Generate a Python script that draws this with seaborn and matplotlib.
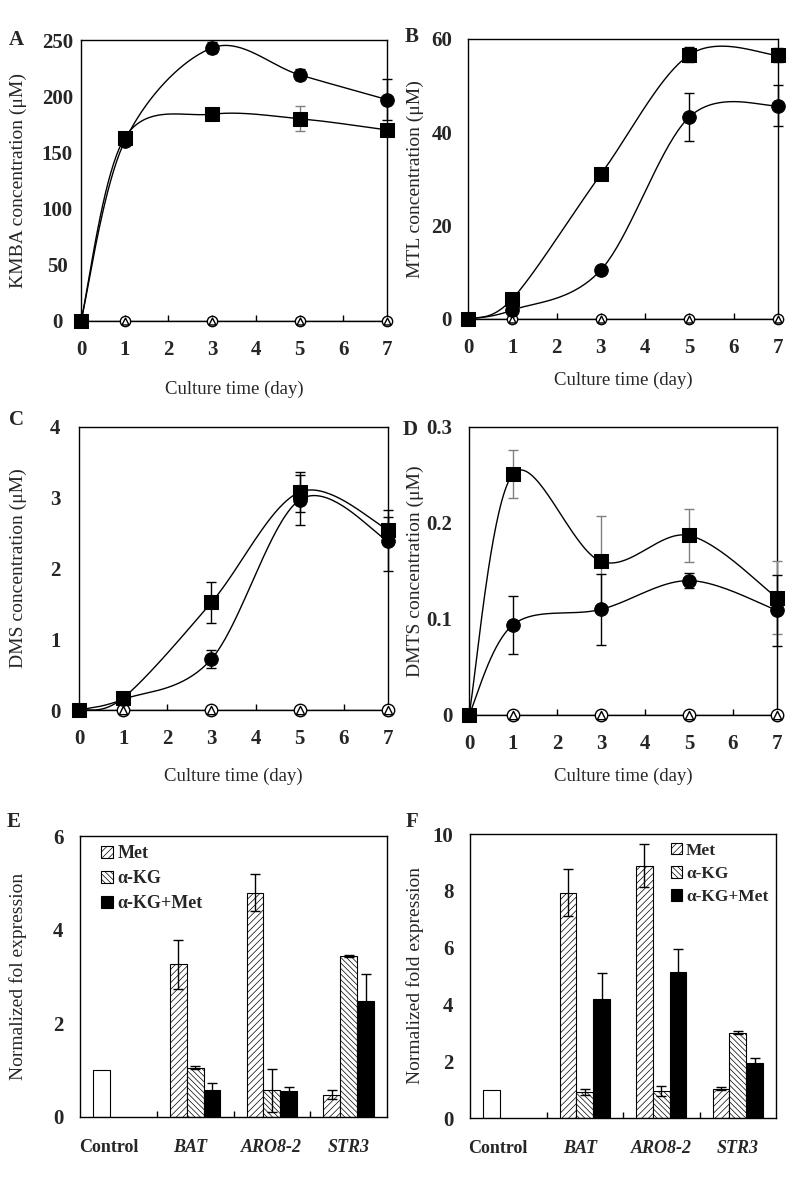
import numpy as np
import pandas as pd
import seaborn as sns
from matplotlib import pyplot as plt
from matplotlib.patches import Patch
from matplotlib.ticker import FuncFormatter
from matplotlib.transforms import ScaledTranslation

### Time course data (days of culture)
days = [0, 1, 3, 5, 7]
zero_days = [1, 3, 5, 7]
zero_vals = [0, 0, 0, 0]

# A: KMBA
kmba_sq = [0, 163, 184, 180, 170]
kmba_sq_err = [0, 3, 5, 11, 3]
kmba_ci = [0, 160, 243, 219, 197]
kmba_ci_err = [0, 3, 5, 5, 18]

# B: MTL
mtl_sq = [0, 4.3, 31.0, 56.6, 56.5]
mtl_sq_err = [0, 0.5, 1.0, 1.6, 1.5]
mtl_ci = [0, 1.9, 10.5, 43.3, 45.7]
mtl_ci_err = [0, 0.3, 0.5, 5.2, 4.4]

# C: DMS
dms_sq = [0, 0.17, 1.52, 3.08, 2.55]
dms_sq_err = [0, 0.03, 0.29, 0.28, 0.18]
dms_ci = [0, 0.15, 0.72, 2.97, 2.39]
dms_ci_err = [0, 0.02, 0.13, 0.35, 0.43]

# D: DMTS
dmts_sq = [0, 0.251, 0.160, 0.187, 0.122]
dmts_sq_err = [0, 0.025, 0.047, 0.028, 0.038]
dmts_ci = [0, 0.094, 0.110, 0.140, 0.109]
dmts_ci_err = [0, 0.030, 0.037, 0.008, 0.037]

### Gene expression data
genes = ['Control', 'BAT', 'ARO8-2', 'STR3']
treatments = ['Met', 'α-KG', 'α-KG+Met']
control_val = 1.0

e_met = [3.26, 4.79, 0.48]
e_met_err = [0.52, 0.40, 0.09]
e_kg = [1.05, 0.57, 3.44]
e_kg_err = [0.03, 0.46, 0.02]
e_mix = [0.57, 0.55, 2.48]
e_mix_err = [0.15, 0.09, 0.57]

f_met = [7.94, 8.89, 1.03]
f_met_err = [0.82, 0.75, 0.05]
f_kg = [0.92, 0.95, 3.01]
f_kg_err = [0.10, 0.18, 0.05]
f_mix = [4.19, 5.15, 1.94]
f_mix_err = [0.92, 0.80, 0.19]

hatches = ['/////', '\\\\\\\\\\\\', '']
faces = ['white', 'white', 'black']

sns.set_theme(style='white')
plt.rcParams['font.family'] = ['Liberation Serif', 'DejaVu Serif']
plt.rcParams['hatch.linewidth'] = 0.5
plt.rcParams['axes.edgecolor'] = 'black'
plt.rcParams['axes.linewidth'] = 1.0

TICK = 15


def smooth(x, y, n=40):
    """Excel-like smoothed line through the points (Bezier from Catmull-Rom)"""
    p = np.column_stack([x, y]).astype(float)
    p = np.vstack([p[0], p, p[-1]])
    t = np.linspace(0, 1, n)[:, None]
    out = []
    for i in range(1, len(p) - 2):
        b0, b3 = p[i], p[i + 1]
        b1 = b0 + (p[i + 1] - p[i - 1]) / 6
        b2 = b3 - (p[i + 2] - p[i]) / 6
        out.append((1 - t)**3 * b0 + 3 * (1 - t)**2 * t * b1 + 3 * (1 - t) * t**2 * b2 + t**3 * b3)
    c = np.vstack(out)
    return c[:, 0], c[:, 1]


def errbars(ax, x, y, err, color):
    eb = ax.errorbar(x, y, yerr=err, fmt='none', ecolor=color, elinewidth=1,
                     capsize=3.5, capthick=1, zorder=4)
    for a in list(eb.lines[1]) + list(eb.lines[2]):
        a.set_clip_on(False)


def style_axes(ax, ypad, yha):
    for s in ax.spines.values():
        s.set_visible(True)
        s.set_color('black')
        s.set_linewidth(1.0)
    ax.tick_params(axis='y', length=0, pad=ypad, labelsize=TICK)
    for lab in ax.get_yticklabels():
        lab.set_fontweight('bold')
        lab.set_horizontalalignment(yha)


def line_panel(ax, sq, sq_err, ci, ci_err, yticks, ylabel, sq_ecolor, zsize,
               xlab_y, ylab_x, ypad, yha='right'):
    for y in (sq, ci):
        xs, ys = smooth(days, y)
        sns.lineplot(x=xs, y=ys, sort=False, estimator=None, color='black', lw=1, ax=ax)
    ax.plot([0, 7], [0, 0], color='black', lw=1)
    errbars(ax, days, sq, sq_err, sq_ecolor)
    errbars(ax, days, ci, ci_err, 'black')
    # open circle and open triangle series stay at zero
    sns.scatterplot(x=zero_days, y=zero_vals, marker='o', s=zsize, color='white',
                    edgecolor='black', linewidth=1, ax=ax, clip_on=False, zorder=5)
    sns.scatterplot(x=zero_days, y=zero_vals, marker='^', s=zsize * 0.45, color='white',
                    edgecolor='black', linewidth=1, ax=ax, clip_on=False, zorder=6)
    sns.scatterplot(x=days, y=ci, marker='o', s=95, color='black', edgecolor='black',
                    ax=ax, clip_on=False, zorder=7)
    sns.scatterplot(x=days, y=sq, marker='s', s=90, color='black', edgecolor='black',
                    ax=ax, clip_on=False, zorder=8)
    ax.set_xlim(0, 7)
    ax.set_ylim(yticks[0], yticks[-1])
    ax.set_xticks(range(8))
    ax.set_yticks(yticks)
    ax.yaxis.set_major_formatter(FuncFormatter(lambda v, p: '%g' % v))
    style_axes(ax, ypad, yha)
    ax.tick_params(axis='x', direction='in', length=4, width=1, pad=14, labelsize=TICK,
                   bottom=True, color='black')
    for lab in ax.get_xticklabels():
        lab.set_fontweight('bold')
    ax.set_xlabel('Culture time (day)', fontsize=13.5)
    ax.xaxis.set_label_coords(0.5, xlab_y)
    ax.set_ylabel(ylabel, fontsize=14)
    ax.yaxis.set_label_coords(ylab_x, 0.5)


def bar_panel(ax, met, met_err, kg, kg_err, mix, mix_err, yticks, ylabel,
              leg_x, leg_size, leg_space, ylab_x):
    rows = [('Control', 'Met', control_val, 0.0)]  # control sits in the first slot
    for i, g in enumerate(genes[1:]):
        rows.append((g, 'Met', met[i], met_err[i]))
        rows.append((g, 'α-KG', kg[i], kg_err[i]))
        rows.append((g, 'α-KG+Met', mix[i], mix_err[i]))
    df = pd.DataFrame(rows, columns=['gene', 'treatment', 'value', 'err'])
    sns.barplot(data=df, x='gene', y='value', hue='treatment', order=genes,
                hue_order=treatments, width=0.66, errorbar=None, legend=False, ax=ax)
    for p in ax.patches:
        w = p.get_width()
        cx = p.get_x() + w / 2
        cat = int(round(cx))
        k = int(round((cx - cat) / w)) + 1
        p.set_edgecolor('black')
        p.set_linewidth(0.8)
        if cat == 0:
            p.set_facecolor('white')
            continue
        p.set_facecolor(faces[k])
        p.set_hatch(hatches[k])
        r = df[(df.gene == genes[cat]) & (df.treatment == treatments[k])].iloc[0]
        errbars(ax, [cx], [p.get_height()], [r.err], 'black')
    ax.set_xlim(-0.5, 3.5)
    ax.set_ylim(yticks[0], yticks[-1])
    ax.set_yticks(yticks)
    style_axes(ax, 12, 'right')
    ax.set_xticks(range(4))
    ax.set_xticklabels(genes)
    ax.set_xticks([0.5, 1.5, 2.5], minor=True)
    ax.tick_params(axis='x', which='major', length=0, pad=16, labelsize=13)
    ax.tick_params(axis='x', which='minor', direction='in', length=4, width=1,
                   bottom=True, color='black')
    shifts = [-10, -5, 0, 0]
    for i, lab in enumerate(ax.get_xticklabels()):
        lab.set_fontweight('bold')
        if i > 0:
            lab.set_fontstyle('italic')
        lab.set_transform(lab.get_transform() +
                          ScaledTranslation(shifts[i] / 100, 0, fig.dpi_scale_trans))
    ax.set_xlabel('')
    ax.set_ylabel(ylabel, fontsize=14)
    ax.yaxis.set_label_coords(ylab_x, 0.5)
    handles = [Patch(facecolor=faces[k], edgecolor='black', hatch=hatches[k], lw=0.8)
               for k in range(3)]
    ax.legend(handles, treatments, loc='upper left', bbox_to_anchor=(leg_x, 1.0),
              frameon=False, prop={'weight': 'bold', 'size': leg_size}, handlelength=0.65,
              handleheight=0.65, handletextpad=0.25, labelspacing=leg_space,
              borderaxespad=0.1)


fig = plt.figure(figsize=(7.87, 11.8), dpi=100)
W, H = 787, 1180


def axes_px(l, r, t, b):
    return fig.add_axes([l / W, (H - b) / H, (r - l) / W, (b - t) / H])


axA = axes_px(81, 387, 40, 321)
axB = axes_px(468, 778, 39, 319)
axC = axes_px(79, 388, 427, 710)
axD = axes_px(469, 777, 427, 715)
axE = axes_px(80, 387, 836, 1117)
axF = axes_px(470, 776, 834, 1118)

line_panel(axA, kmba_sq, kmba_sq_err, kmba_ci, kmba_ci_err, [0, 50, 100, 150, 200, 250],
           'KMBA concentration (μM)', '#808080', 55, -0.213, -0.176, 17, 'center')
line_panel(axB, mtl_sq, mtl_sq_err, mtl_ci, mtl_ci_err, [0, 20, 40, 60],
           'MTL concentration (μM)', 'black', 55, -0.189, -0.142, 11.5)
line_panel(axC, dms_sq, dms_sq_err, dms_ci, dms_ci_err, [0, 1, 2, 3, 4],
           'DMS concentration (μM)', 'black', 80, -0.205, -0.168, 13.5)
line_panel(axD, dmts_sq, dmts_sq_err, dmts_ci, dmts_ci_err, [0, 0.1, 0.2, 0.3],
           'DMTS concentration (μM)', '#808080', 80, -0.184, -0.146, 12)

bar_panel(axE, e_met, e_met_err, e_kg, e_kg_err, e_mix, e_mix_err, [0, 2, 4, 6],
          'Normalized fol expression', 0.04, 13, 0.45, -0.173)
bar_panel(axF, f_met, f_met_err, f_kg, f_kg_err, f_mix, f_mix_err, [0, 2, 4, 6, 8, 10],
          'Normalized fold expression', 0.627, 12.5, 0.42, -0.150)

for letter, x, y in [('A', 16, 40), ('B', 412, 37), ('C', 16, 420),
                     ('D', 410, 430), ('E', 14, 822), ('F', 412, 822)]:
    fig.text(x / W, 1 - y / H, letter, fontsize=15, fontweight='bold',
             ha='center', va='center')

plt.savefig('out.png', dpi=100)
